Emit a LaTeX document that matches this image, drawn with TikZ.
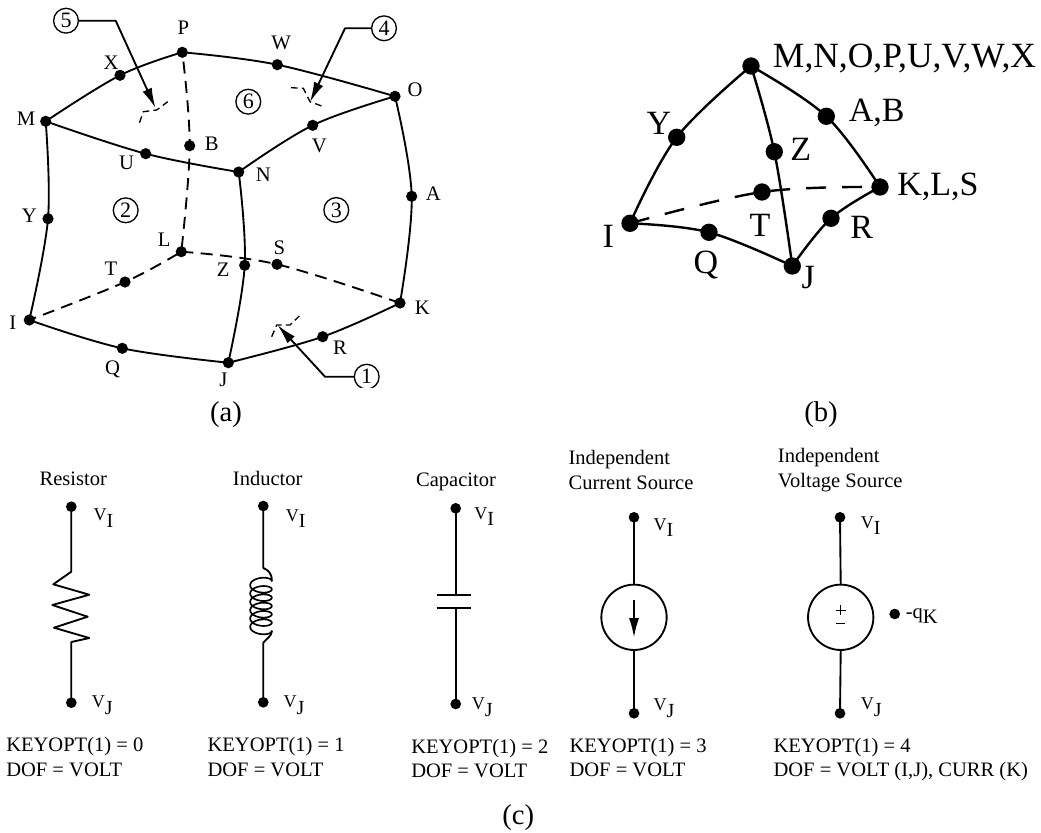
\documentclass[tikz,border=0pt]{standalone}
\usepackage{fontspec}
\setmainfont{Liberation Serif}
\usetikzlibrary{arrows.meta}
\newcommand{\fs}[1]{\fontsize{#1}{#1}\selectfont}
\newcommand{\voltlab}[1]{{\fs{13.5}V\raisebox{-5.2pt}{\fs{15}#1}}}
\tikzset{
  wire/.style={line width=1.4pt,line join=round,line cap=round,black},
  thick wire/.style={line width=1.8pt,line join=round,black},
  dashA/.style={wire,line cap=butt,dash pattern=on 9pt off 5.6pt},
  dashB/.style={thick wire,dash pattern=on 15pt off 12pt},
  mark dash/.style={line width=1pt,dash pattern=on 5pt off 3.2pt},
  dotA/.style={circle,fill=black,inner sep=0pt,minimum size=8.4pt},
  dotB/.style={circle,fill=black,inner sep=0pt,minimum size=13pt},
  dotC/.style={circle,fill=black,inner sep=0pt,minimum size=8pt},
  lblA/.style={inner sep=0pt,font=\fs{15.5}},
  lblB/.style={inner sep=0pt,font=\fs{25.5}},
  capt/.style={inner sep=0pt,font=\fs{21.5}},
  txt/.style={inner sep=0pt,anchor=base west,font=\fs{15.4}},
  ctxt/.style={inner sep=0pt,anchor=base,font=\fs{15.4}},
  vlab/.style={inner sep=0pt,anchor=base west},
  num/.style={circle,draw,line width=1pt,inner sep=0pt,minimum size=18.6pt,font=\fs{16.5}},
  arr/.style={wire,-{Latex[length=15pt,width=7.5pt]}},
  source/.style={circle,draw,line width=1.4pt,inner sep=0pt,minimum size=49pt}
}
\begin{document}
\begin{tikzpicture}[x=0.75pt,y=-0.75pt]
\useasboundingbox (0,0) rectangle (1041,832);
%% ---------- panel (a)
\begin{scope}
\clip (0,0) rectangle (450,387);
\foreach \n/\x/\y in {P/182.3/52.3,W/277.3/64.7,O/395/96.3,X/120/75.3,M/45.7/121.3,U/145.7/153.7,N/238.7/172,V/312.7/125.3,B/189.7/145.7,A/411.7/196.3,K/400/303,R/322.7/336.7,J/228.3/362.7,Q/122.3/348.3,I/29.3/320,Y/48/218.7,T/125/282,L/181.3/251.7,Z/244.7/265.3,S/277/264.3}
  \node[dotA] (a\n) at (\x,\y) {};
\foreach \n/\x/\y in {P/183.3/27.3,W/281/43.3,O/415/89.3,X/111/62.3,M/26/118.7,U/126.7/163.3,N/263.3/174.7,V/319.3/145.7,B/211.7/143.3,A/433.3/194,K/422.3/307.3,R/340/347.3,J/223.3/380,Q/112.7/369.3,I/12.7/322.3,Y/29.3/215.7,T/111/268.3,L/164.3/240,Z/223.3/269.3,S/279.3/247.3}
  \node[lblA] (al\n) at (\x,\y) {\n};
\draw[wire] plot[smooth,tension=.6] coordinates {(aM.center) (aX.center) (aP.center)};
\draw[wire] plot[smooth,tension=.6] coordinates {(aP.center) (aW.center) (aO.center)};
\draw[wire] plot[smooth,tension=.6] coordinates {(aM.center) (aU.center) (aN.center)};
\draw[wire] plot[smooth,tension=.6] coordinates {(aN.center) (aV.center) (aO.center)};
\draw[wire] plot[smooth,tension=.6] coordinates {(aO.center) (aA.center) (aK.center)};
\draw[wire] plot[smooth,tension=.6] coordinates {(aI.center) (aY.center) (aM.center)};
\draw[wire] plot[smooth,tension=.6] coordinates {(aN.center) (aZ.center) (aJ.center)};
\draw[wire] plot[smooth,tension=.6] coordinates {(aI.center) (aQ.center) (aJ.center)};
\draw[wire] plot[smooth,tension=.6] coordinates {(aJ.center) (aR.center) (aK.center)};
\draw[dashA,dash phase=-7pt] plot[smooth,tension=.6] coordinates {(aP.center) (aB.center) (aL.center)};
\draw[dashA,dash phase=-11pt] plot[smooth,tension=.6] coordinates {(aI.center) (aT.center) (aL.center)};
\draw[dashA] plot[smooth,tension=.6] coordinates {(aL.center) (aS.center) (aK.center)};
\node[num] (c5) at (66,20.7) {5};
\node[num] (c4) at (384,28.3) {4};
\node[num] (c6) at (248.3,101.7) {6};
\node[num] (c2) at (125.7,210.3) {2};
\node[num] (c3) at (336.3,210) {3};
\node[num] (c1) at (366.7,376.7) {1};
\coordinate (b5) at (115.7,20.7); \coordinate (t5) at (155.5,108);
\coordinate (b4) at (345,28.3);   \coordinate (t4) at (310,102);
\coordinate (b1) at (325,376.7);  \coordinate (t1) at (277.5,325);
\draw[arr] (c5.east) -- (b5) -- (t5);
\draw[arr] (c4.west) -- (b4) -- (t4);
\draw[arr] (c1.west) -- (b1) -- (t1);
\draw[mark dash] (139.5,122.7) -- (143.3,111.7) -- (156.7,110) -- (167.7,101.7);
\draw[mark dash] (291,87.7) -- (303.3,88.3) -- (310,101.7) -- (321.7,106);
\draw[mark dash] (271.7,336.7) -- (276.7,325) -- (290,325) -- (299.3,316);
\end{scope}
\node[capt] (capa) at (226,415) {(a)};
%% ---------- panel (b)
\foreach \n/\x/\y in {top/751/66,ab/826.3/116.3,kls/880/187,R/831/218.3,J/792.3/266,Q/709/232.3,I/630/223.3,Y/676.7/137.3,Z/774.3/151.7,T/762/192}
  \node[dotB] (b\n) at (\x,\y) {};
\draw[thick wire] plot[smooth,tension=.6] coordinates {(bI.center) (bY.center) (btop.center)};
\draw[thick wire] plot[smooth,tension=.6] coordinates {(btop.center) (bab.center) (bkls.center)};
\draw[thick wire] plot[smooth,tension=.6] coordinates {(btop.center) (bZ.center) (bJ.center)};
\draw[thick wire] plot[smooth,tension=.6] coordinates {(bI.center) (bQ.center) (bJ.center)};
\draw[thick wire] plot[smooth,tension=.6] coordinates {(bJ.center) (bR.center) (bkls.center)};
\draw[dashB] plot[smooth,tension=.6] coordinates {(bI.center) (bT.center) (bkls.center)};
\node[lblB,anchor=base west,font=\fs{26.6}] (blm) at (772.7,67) {M,N,O,P,U,V,W,X};
\node[lblB] (blab) at (876.7,113.3) {A,B};
\node[lblB] (blZ) at (800.7,149.3) {Z};
\node[lblB] (blk) at (938,186.7) {K,L,S};
\node[lblB] (blR) at (861.7,227.3) {R};
\node[lblB] (blT) at (760,225) {T};
\node[lblB] (blQ) at (706,265) {Q};
\node[lblB] (blJ) at (808.3,278) {J};
\node[lblB] (blI) at (608.3,236) {I};
\node[lblB] (blY) at (659,123.3) {Y};
\node[capt] (capb) at (821,415) {(b)};
%% ---------- panel (c): resistor
\node[dotC] (r1) at (71.3,506.7) {};
\node[dotC] (r2) at (71.3,702.7) {};
\draw[wire,line cap=butt] (r1.center) -- (71.3,571.7) -- (53.3,584.3) -- (89.3,594.7) -- (52.3,605) -- (87.7,616.7) -- (54,627.7) -- (89.3,638) -- (71.3,642) -- (r2.center);
\node[ctxt] (rt) at (73.3,485) {Resistor};
\node[vlab] (rv1) at (93.3,520.7) {\voltlab{I}};
\node[vlab] (rv2) at (91.7,707.7) {\voltlab{J}};
\node[txt] (rk) at (6,751.7) {KEYOPT(1) = 0};
\node[txt] (rd) at (6,776) {DOF = VOLT};
%% inductor
\node[dotC] (l1) at (263.3,506) {};
\node[dotC] (l2) at (263.3,702.3) {};
\draw[wire] (l1.center) -- (263.3,568) .. controls (268,570) and (272,573) .. (271.8,581);
\draw[line width=1.25pt] plot[domain=0:2160,samples=290,smooth] ({261+10.8*cos(\x)},{581+\x/360*8.33-5.2*sin(\x)});
\draw[wire] (271.8,631) .. controls (272,636) and (266,639) .. (263.3,642.7) -- (l2.center);
\node[ctxt] (lt) at (267.7,485) {Inductor};
\node[vlab] (lv1) at (285.7,521) {\voltlab{I}};
\node[vlab] (lv2) at (283.3,707.7) {\voltlab{J}};
\node[txt] (lk) at (207.3,751.7) {KEYOPT(1) = 1};
\node[txt] (ld) at (207.3,776) {DOF = VOLT};
%% capacitor
\node[dotC] (c1a) at (455.7,508.3) {};
\node[dotC] (c2a) at (455.7,704) {};
\coordinate (p1) at (455.7,595);
\coordinate (p2) at (455.7,608.3);
\draw[wire] (c1a.center) -- (p1);
\draw[wire] (c2a.center) -- (p2);
\draw[wire,line cap=butt] (436.7,595) -- (470.7,595);
\draw[wire,line cap=butt] (436.7,608.3) -- (470.7,608.3);
\node[ctxt] (ct) at (456,486) {Capacitor};
\node[vlab] (cv1) at (474,519) {\voltlab{I}};
\node[vlab] (cv2) at (471.7,709.3) {\voltlab{J}};
\node[txt] (ck) at (411,753.3) {KEYOPT(1) = 2};
\node[txt] (cd) at (411,777.7) {DOF = VOLT};
%% current source
\node[dotC] (i1) at (634,517.3) {};
\node[dotC] (i2) at (634,713.3) {};
\node[source] (is) at (634,617.3) {};
\draw[wire] (i1.center) -- (is.north);
\draw[wire] (i2.center) -- (is.south);
\coordinate (ia) at (634,600);
\coordinate (ib) at (634,637.5);
\draw[wire,line cap=butt,-{Latex[length=14.5pt,width=7.5pt]}] (ia) -- (ib);
\node[txt] (it1) at (568.3,464.5) {Independent};
\node[txt] (it2) at (568.3,489) {Current Source};
\node[vlab] (iv1) at (653.3,530) {\voltlab{I}};
\node[vlab] (iv2) at (653.3,710.7) {\voltlab{J}};
\node[txt] (ik) at (569.3,752.3) {KEYOPT(1) = 3};
\node[txt] (id) at (569.3,776.7) {DOF = VOLT};
%% voltage source
\node[dotC] (v1) at (840,517.3) {};
\node[dotC] (v2) at (840,713.3) {};
\node[source] (vs) at (840.7,617.3) {};
\draw[wire] (v1.center) -- (vs.north);
\draw[wire] (v2.center) -- (vs.south);
\coordinate (pa) at (840.7,610);
\coordinate (ma) at (840.7,623.5);
\draw[line width=.7pt] (835.5,610) -- (845.9,610) (pa) ++(0,-5.2) -- ++(0,10.4);
\draw[line width=1.4pt] (836.2,623.5) -- (ma) -- (845.2,623.5);
\node[dotC] (vk) at (894.7,614) {};
\node[vlab] (vq) at (905.5,618.5) {{\fs{15.4}-q\raisebox{-3.5pt}{K}}};
\node[txt] (vt1) at (777.7,462.5) {Independent};
\node[txt] (vt2) at (777.7,487) {Voltage Source};
\node[vlab] (vv1) at (860.7,528) {\voltlab{I}};
\node[vlab] (vv2) at (860.7,709.3) {\voltlab{J}};
\node[txt] (vk1) at (773.3,752.3) {KEYOPT(1) = 4};
\node[txt] (vd1) at (773.3,776.7) {DOF = VOLT (I,J), CURR (K)};
\node[capt] (capc) at (518.3,818) {(c)};
\end{tikzpicture}
\end{document}
